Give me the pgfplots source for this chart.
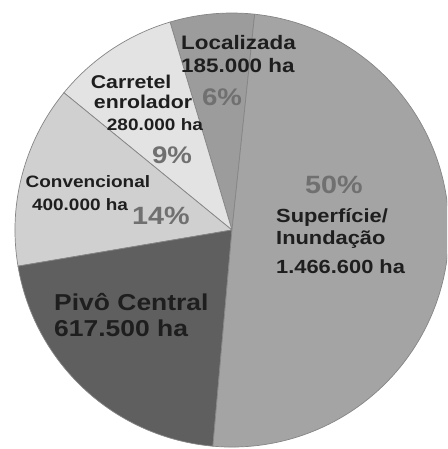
\documentclass[border=0pt]{standalone}
\usepackage{pgfplots}
\pgfplotsset{compat=1.18}
\usepackage{pgfplotstable}
\usepackage{graphicx}
\usepackage{fontspec}
\setmainfont{Liberation Sans}
\definecolor{cSup}{HTML}{A4A4A4}
\definecolor{cLoc}{HTML}{9C9C9C}
\definecolor{cCar}{HTML}{E3E3E3}
\definecolor{cCon}{HTML}{D0D0D0}
\definecolor{cPiv}{HTML}{5F5F5F}
\definecolor{edge}{HTML}{858585}
\definecolor{pct}{HTML}{707070}
\definecolor{txt}{HTML}{1E1E1E}
% values in thousand ha
\pgfplotstableread{
name value
Localizada 185
Carretel 280
Convencional 400
Pivo 617.5
Superficie 1466.6
}\pietable
\newcommand{\lbl}[2]{\fontsize{#1}{#1}\selectfont\bfseries\scalebox{1.15}[1]{#2}}
\begin{document}%
\begin{tikzpicture}
\pgfplotstablegetelem{0}{value}\of\pietable\let\vA\pgfplotsretval
\pgfplotstablegetelem{1}{value}\of\pietable\let\vB\pgfplotsretval
\pgfplotstablegetelem{2}{value}\of\pietable\let\vC\pgfplotsretval
\pgfplotstablegetelem{3}{value}\of\pietable\let\vD\pgfplotsretval
\pgfplotstablegetelem{4}{value}\of\pietable\let\vE\pgfplotsretval
\pgfmathsetmacro{\tot}{\vA+\vB+\vC+\vD+\vE}
\pgfmathsetmacro{\aA}{84}
\pgfmathsetmacro{\aB}{\aA+\vA/\tot*360}
\pgfmathsetmacro{\aC}{\aB+\vB/\tot*360}
\pgfmathsetmacro{\aD}{\aC+\vC/\tot*360}
\pgfmathsetmacro{\aE}{\aD+\vD/\tot*360}
\pgfmathsetmacro{\aF}{\aE+\vE/\tot*360}
\begin{axis}[
  scale only axis, width=447pt, height=449pt,
  xmin=-1.069, xmax=0.991, ymin=-1.009, ymax=1.060,
  enlargelimits=false,
  axis line style={draw=none}, ticks=none, clip=true]
\addplot[fill=cLoc, draw=edge, line width=0.7pt, domain=\aA:\aB, samples=40] ({cos(x)},{sin(x)}) -- (axis cs:0,0) -- cycle;
\addplot[fill=cCar, draw=edge, line width=0.7pt, domain=\aB:\aC, samples=40] ({cos(x)},{sin(x)}) -- (axis cs:0,0) -- cycle;
\addplot[fill=cCon, draw=edge, line width=0.7pt, domain=\aC:\aD, samples=50] ({cos(x)},{sin(x)}) -- (axis cs:0,0) -- cycle;
\addplot[fill=cPiv, draw=edge, line width=0.7pt, domain=\aD:\aE, samples=60] ({cos(x)},{sin(x)}) -- (axis cs:0,0) -- cycle;
\addplot[fill=cSup, draw=edge, line width=0.7pt, domain=\aE:\aF, samples=120] ({cos(x)},{sin(x)}) -- (axis cs:0,0) -- cycle;
% labels
\node[anchor=west, text=txt, inner sep=0pt] at (axis cs:-0.235,0.862) {\lbl{19.5}{Localizada}};
\node[anchor=west, text=txt, inner sep=0pt] at (axis cs:-0.235,0.756) {\lbl{19.5}{185.000 ha}};
\node[text=pct, inner sep=0pt] at (axis cs:-0.046,0.613) {\lbl{24}{6\%}};
\node[text=txt, inner sep=0pt] at (axis cs:-0.465,0.682) {\lbl{18.5}{Carretel}};
\node[text=txt, inner sep=0pt] at (axis cs:-0.410,0.590) {\lbl{18.5}{enrolador}};
\node[text=txt, inner sep=0pt] at (axis cs:-0.355,0.484) {\lbl{16.5}{280.000 ha}};
\node[text=pct, inner sep=0pt] at (axis cs:-0.276,0.346) {\lbl{24}{9\%}};
\node[text=txt, inner sep=0pt] at (axis cs:-0.664,0.221) {\lbl{16.5}{Convencional}};
\node[text=txt, inner sep=0pt] at (axis cs:-0.700,0.115) {\lbl{16.5}{400.000 ha}};
\node[text=pct, inner sep=0pt] at (axis cs:-0.327,0.065) {\lbl{25}{14\%}};
\node[text=pct, inner sep=0pt] at (axis cs:0.470,0.207) {\lbl{25}{50\%}};
\node[anchor=west, text=txt, inner sep=0pt] at (axis cs:0.203,0.060) {\lbl{19}{Superfície/}};
\node[anchor=west, text=txt, inner sep=0pt] at (axis cs:0.203,-0.046) {\lbl{19}{Inundação}};
\node[anchor=west, text=txt, inner sep=0pt] at (axis cs:0.203,-0.171) {\lbl{19}{1.466.600 ha}};
\node[anchor=west, text=txt, inner sep=0pt] at (axis cs:-0.820,-0.332) {\lbl{23}{Pivô Central}};
\node[anchor=west, text=txt, inner sep=0pt] at (axis cs:-0.820,-0.452) {\lbl{23}{617.500 ha}};
\end{axis}
\end{tikzpicture}%
\end{document}
